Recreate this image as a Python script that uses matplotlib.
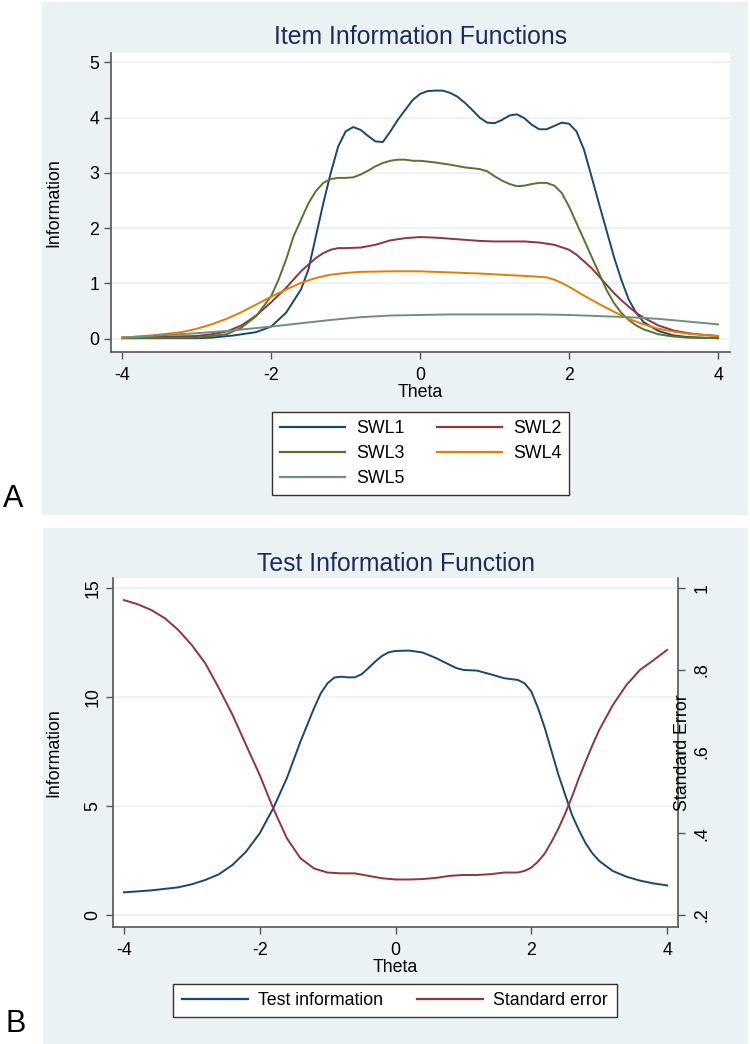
import matplotlib
matplotlib.use("Agg")
import matplotlib.pyplot as plt
from matplotlib.patches import Rectangle

plt.rcParams['font.family'] = ['Liberation Sans', 'DejaVu Sans']

# ---------------- Data: Panel A (item information) ----------------
swl1_theta = [-4.0, -3.5, -3.0, -2.8, -2.5, -2.2, -2.0, -1.8, -1.6, -1.5, -1.4, -1.3, -1.2, -1.1,
              -1.0, -0.9, -0.8, -0.7, -0.6, -0.5, -0.4, -0.3, -0.2, -0.1, 0.0, 0.1, 0.2, 0.3,
              0.4, 0.5, 0.6, 0.7, 0.8, 0.9, 1.0, 1.1, 1.2, 1.3, 1.4, 1.5, 1.6, 1.7, 1.8, 1.9,
              2.0, 2.1, 2.2, 2.3, 2.4, 2.5, 2.6, 2.7, 2.8, 2.9, 3.0, 3.2, 3.4, 3.6, 4.0]
swl1_info = [0.01, 0.01, 0.01, 0.02, 0.06, 0.12, 0.22, 0.47, 0.89, 1.25, 1.85, 2.45, 3.00, 3.48,
             3.75, 3.83, 3.78, 3.67, 3.57, 3.56, 3.75, 3.96, 4.14, 4.32, 4.43, 4.48, 4.49, 4.49,
             4.45, 4.38, 4.27, 4.14, 4.00, 3.91, 3.90, 3.96, 4.04, 4.06, 3.99, 3.87, 3.79, 3.79,
             3.85, 3.91, 3.89, 3.75, 3.42, 2.94, 2.45, 1.97, 1.49, 1.07, 0.71, 0.47, 0.30, 0.14,
             0.06, 0.03, 0.01]

swl2_theta = [-4.0, -3.0, -2.8, -2.6, -2.4, -2.2, -2.0, -1.8, -1.7, -1.6, -1.5, -1.4, -1.3, -1.2,
              -1.1, -1.0, -0.8, -0.6, -0.4, -0.2, 0.0, 0.2, 0.4, 0.6, 0.8, 1.0, 1.4, 1.6, 1.8,
              2.0, 2.1, 2.2, 2.3, 2.4, 2.5, 2.6, 2.7, 2.8, 2.9, 3.0, 3.2, 3.4, 3.6, 3.8, 4.0]
swl2_info = [0.02, 0.05, 0.08, 0.13, 0.24, 0.42, 0.66, 0.92, 1.07, 1.22, 1.34, 1.46, 1.55, 1.61,
             1.64, 1.64, 1.65, 1.70, 1.78, 1.82, 1.84, 1.83, 1.81, 1.79, 1.77, 1.76, 1.76, 1.74,
             1.70, 1.61, 1.52, 1.40, 1.28, 1.13, 0.98, 0.83, 0.70, 0.58, 0.47, 0.38, 0.24, 0.15,
             0.10, 0.07, 0.05]

swl3_theta = [-4.0, -3.0, -2.6, -2.4, -2.2, -2.0, -1.9, -1.8, -1.7, -1.6, -1.5, -1.4, -1.3, -1.2,
              -1.1, -1.0, -0.9, -0.8, -0.7, -0.6, -0.5, -0.4, -0.3, -0.2, -0.1, 0.0, 0.2, 0.4,
              0.6, 0.8, 0.9, 1.0, 1.1, 1.2, 1.3, 1.4, 1.5, 1.6, 1.7, 1.8, 1.9, 2.0, 2.1, 2.2,
              2.3, 2.4, 2.5, 2.6, 2.7, 2.8, 2.9, 3.0, 3.2, 3.4, 3.6, 4.0]
swl3_info = [0.01, 0.02, 0.08, 0.20, 0.41, 0.77, 1.07, 1.43, 1.85, 2.15, 2.45, 2.67, 2.82, 2.89,
             2.91, 2.91, 2.92, 2.97, 3.04, 3.12, 3.18, 3.22, 3.24, 3.24, 3.22, 3.22, 3.19, 3.15,
             3.10, 3.07, 3.03, 2.94, 2.86, 2.80, 2.76, 2.77, 2.80, 2.82, 2.82, 2.77, 2.64, 2.39,
             2.09, 1.79, 1.49, 1.19, 0.89, 0.65, 0.47, 0.34, 0.24, 0.17, 0.08, 0.04, 0.02, 0.01]

swl4_theta = [-4.0, -3.6, -3.2, -3.0, -2.8, -2.6, -2.4, -2.2, -2.0, -1.8, -1.6, -1.4, -1.2, -1.0,
              -0.8, -0.4, 0.0, 0.4, 0.8, 1.2, 1.5, 1.7, 1.8, 1.9, 2.0, 2.2, 2.4, 2.6, 2.8, 3.0,
              3.2, 3.4, 3.6, 3.8, 4.0]
swl4_info = [0.02, 0.06, 0.12, 0.18, 0.26, 0.36, 0.48, 0.62, 0.76, 0.89, 1.01, 1.10, 1.16, 1.19,
             1.21, 1.22, 1.22, 1.20, 1.18, 1.15, 1.13, 1.11, 1.07, 1.01, 0.94, 0.78, 0.63, 0.49,
             0.36, 0.26, 0.18, 0.13, 0.09, 0.07, 0.05]

swl5_theta = [-4.0, -3.0, -2.6, -2.0, -1.6, -1.2, -0.8, -0.4, 0.0, 0.4, 1.0, 1.6, 2.0, 2.4, 2.8,
              3.2, 3.6, 4.0]
swl5_info = [0.02, 0.10, 0.14, 0.22, 0.28, 0.34, 0.39, 0.42, 0.43, 0.44, 0.44, 0.44, 0.43, 0.41,
             0.39, 0.36, 0.31, 0.26]

item_labels = ['SWL1', 'SWL2', 'SWL3', 'SWL4', 'SWL5']
item_colors = ['#1a476f', '#90353b', '#55752f', '#e37e00', '#6e8e84']

# ---------------- Data: Panel B (test information / SE) ----------------
tif_theta = [-4.0, -3.6, -3.2, -3.0, -2.8, -2.6, -2.4, -2.2, -2.0, -1.8, -1.6, -1.4, -1.2, -1.1,
             -1.0, -0.9, -0.8, -0.7, -0.6, -0.5, -0.4, -0.3, -0.2, -0.1, 0.0, 0.2, 0.4, 0.6,
             0.8, 0.9, 1.0, 1.2, 1.4, 1.6, 1.8, 1.9, 2.0, 2.1, 2.2, 2.3, 2.4, 2.5, 2.6, 2.7,
             2.8, 2.9, 3.0, 3.2, 3.4, 3.6, 3.8, 4.0]
tif_info = [1.04, 1.13, 1.27, 1.41, 1.61, 1.87, 2.30, 2.91, 3.75, 4.90, 6.28, 7.96, 9.49, 10.18,
            10.64, 10.90, 10.94, 10.91, 10.91, 11.05, 11.33, 11.63, 11.89, 12.06, 12.12, 12.14,
            12.05, 11.79, 11.48, 11.33, 11.25, 11.22, 11.05, 10.87, 10.79, 10.64, 10.26, 9.49,
            8.57, 7.50, 6.43, 5.51, 4.59, 3.90, 3.29, 2.83, 2.48, 2.02, 1.76, 1.58, 1.45, 1.36]

se_theta = [-4.0, -3.8, -3.6, -3.4, -3.2, -3.0, -2.8, -2.6, -2.4, -2.2, -2.0, -1.8, -1.6, -1.4,
            -1.2, -1.0, -0.8, -0.6, -0.4, -0.2, 0.0, 0.2, 0.4, 0.6, 0.8, 1.0, 1.2, 1.4, 1.6,
            1.8, 1.9, 2.0, 2.1, 2.2, 2.3, 2.4, 2.5, 2.6, 2.7, 2.8, 2.9, 3.0, 3.2, 3.4, 3.6,
            3.8, 4.0]
se_vals = [0.971, 0.961, 0.947, 0.927, 0.898, 0.861, 0.816, 0.755, 0.690, 0.616, 0.543, 0.461,
           0.388, 0.339, 0.314, 0.304, 0.302, 0.302, 0.296, 0.290, 0.287, 0.287, 0.288, 0.291,
           0.296, 0.298, 0.298, 0.300, 0.304, 0.304, 0.308, 0.316, 0.331, 0.351, 0.380, 0.412,
           0.449, 0.490, 0.535, 0.576, 0.616, 0.653, 0.714, 0.763, 0.800, 0.824, 0.849]

x_ticks = [-4, -2, 0, 2, 4]
a_yticks = [0, 1, 2, 3, 4, 5]
b_yticks = [0, 5, 10, 15]
b_se_ticks = [0.2, 0.4, 0.6, 0.8, 1.0]
b_se_labels = ['.2', '.4', '.6', '.8', '1']

# ---------------- Styling ----------------
W, H = 750, 1044
BG = '#eaf2f3'
TITLE_C = '#1c2b5a'
AXC = '#555555'
FS = 12.8
TFS = 17.8
LW = 1.4

fig = plt.figure(figsize=(W / 100, H / 100), dpi=100)
fig.patch.set_facecolor('white')

def fx(px):
    return px / W

def fy(py):
    return 1 - py / H

# panel backgrounds (drawn beneath everything)
fig.patches.append(Rectangle((fx(42), fy(515)), fx(748) - fx(42), fy(2) - fy(515),
                             transform=fig.transFigure, facecolor=BG, edgecolor='none', zorder=-10))
fig.patches.append(Rectangle((fx(43), fy(1044)), fx(748) - fx(43), fy(528) - fy(1044),
                             transform=fig.transFigure, facecolor=BG, edgecolor='none', zorder=-10))

def style_axis(ax):
    ax.set_facecolor('white')
    ax.yaxis.grid(True, color=BG, lw=1.3)
    ax.set_axisbelow(True)
    for s in ['left', 'bottom', 'right', 'top']:
        ax.spines[s].set_color(AXC)
        ax.spines[s].set_linewidth(1.2)
    ax.spines['top'].set_visible(False)
    ax.tick_params(direction='out', length=5, width=1, color=AXC, labelsize=FS)

# ---------------- Panel A ----------------
axA = fig.add_axes([fx(111), fy(352), fx(730) - fx(111), fy(53) - fy(352)])
style_axis(axA)
axA.spines['right'].set_visible(False)
series_a = [(swl1_theta, swl1_info), (swl2_theta, swl2_info), (swl3_theta, swl3_info),
            (swl4_theta, swl4_info), (swl5_theta, swl5_info)]
handles = []
for (th, vals), lab, col in zip(series_a, item_labels, item_colors):
    h, = axA.plot(th, vals, color=col, lw=LW, label=lab)
    handles.append(h)
axA.set_xlim(-4.15, 4.16)
axA.set_ylim(-0.24, 5.17)
axA.set_xticks(x_ticks)
axA.set_xticklabels([str(t) for t in x_ticks])
axA.set_yticks(a_yticks)
axA.tick_params(axis='x', pad=6)
axA.set_xlabel('Theta', fontsize=FS, labelpad=0)
axA.set_ylabel('Information', fontsize=FS, labelpad=19)
axA.set_title('Item Information Functions', fontsize=TFS, color=TITLE_C, pad=6.5)

# legend order: SWL1 SWL2 / SWL3 SWL4 / SWL5  (row-major with 2 columns)
order = [0, 2, 4, 1, 3]
legA = fig.legend([handles[i] for i in order], [item_labels[i] for i in order],
                  loc='center', bbox_to_anchor=(fx(420.5), fy(453.5)), ncol=2,
                  fontsize=FS, frameon=True, fancybox=False, edgecolor='#333333',
                  facecolor='white', framealpha=1,
                  handlelength=3.7, handletextpad=0.6, columnspacing=1.8,
                  labelspacing=0.44, borderpad=0.44, borderaxespad=0)
legA.get_frame().set_linewidth(1.0)
for lh in legA.get_lines():
    lh.set_linewidth(1.6)

fig.text(fx(3), fy(507), 'A', fontsize=22, ha='left', va='baseline')

# ---------------- Panel B ----------------
axB = fig.add_axes([fx(113), fy(927), fx(678) - fx(113), fy(578) - fy(927)])
style_axis(axB)
axB.spines['right'].set_visible(True)
y0, y1 = -0.55, 15.47
h1, = axB.plot(tif_theta, tif_info, color=item_colors[0], lw=LW, label='Test information')
axB.set_xlim(-4.16, 4.16)
axB.set_ylim(y0, y1)
axB.set_xticks(x_ticks)
axB.set_xticklabels([str(t) for t in x_ticks])
axB.set_yticks(b_yticks)
axB.set_yticklabels([str(t) for t in b_yticks], rotation=90, va='center')
axB.tick_params(axis='x', pad=6)
axB.set_xlabel('Theta', fontsize=FS, labelpad=0)
axB.set_ylabel('Information', fontsize=FS, labelpad=16)
axB.set_title('Test Information Function', fontsize=TFS, color=TITLE_C, pad=5)

axB2 = axB.twinx()
axB2.plot(se_theta, se_vals, color=item_colors[1], lw=LW)
axB2.set_ylim(0.2 + y0 * 0.8 / 15, 0.2 + y1 * 0.8 / 15)
axB2.set_yticks(b_se_ticks)
axB2.set_yticklabels(b_se_labels, rotation=90, va='center')
for s in ['left', 'bottom', 'right', 'top']:
    axB2.spines[s].set_visible(False)
axB2.tick_params(direction='out', length=5, width=1, color=AXC, labelsize=FS, pad=6)
axB2.set_ylabel('Standard Error', fontsize=FS)
axB2.yaxis.set_label_coords((682 - 113) / (678 - 113), 0.5)
axB2.yaxis.label.set_rotation(90)
axB2.yaxis.label.set_va('center')
axB2.yaxis.label.set_ha('center')
h2 = plt.Line2D([], [], color=item_colors[1], lw=LW)

legB = fig.legend([h1, h2], ['Test information', 'Standard error'],
                  loc='center', bbox_to_anchor=(fx(395), fy(1000.5)), ncol=2,
                  fontsize=FS, frameon=True, fancybox=False, edgecolor='#333333',
                  facecolor='white', framealpha=1,
                  handlelength=3.7, handletextpad=0.6, columnspacing=1.9,
                  borderpad=0.47, borderaxespad=0)
legB.get_frame().set_linewidth(1.0)
for lh in legB.get_lines():
    lh.set_linewidth(1.6)

fig.text(fx(5), fy(1032), 'B', fontsize=22, ha='left', va='baseline')

fig.savefig('out.png', dpi=100, facecolor='white')
